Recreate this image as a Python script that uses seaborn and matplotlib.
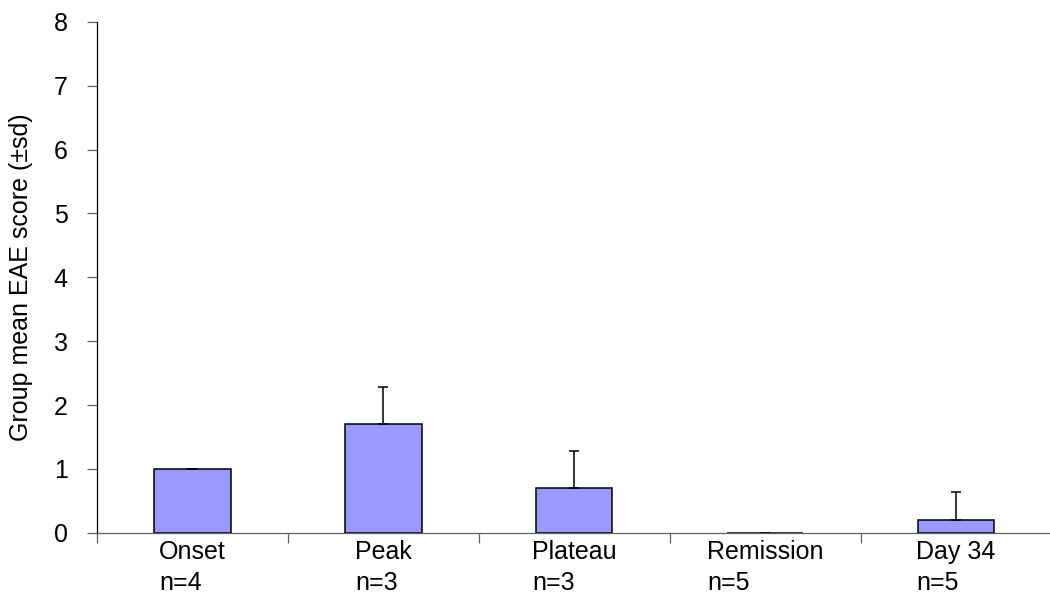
import numpy as np
import pandas as pd
import matplotlib
matplotlib.use("Agg")
import matplotlib.pyplot as plt
import seaborn as sns

categories = ["Onset", "Peak", "Plateau", "Remission", "Day 34"]
n_values = [4, 3, 3, 5, 5]
means = [1.0, 1.7, 0.7, 0.0, 0.2]
sds = [0.0, 0.58, 0.58, 0.0, 0.44]

sns.set_theme(style="white")
plt.rcParams['font.family'] = ['Liberation Sans', 'DejaVu Sans']
plt.rcParams['text.color'] = 'black'
plt.rcParams['axes.labelcolor'] = 'black'

df = pd.DataFrame({"phase": categories, "mean": means, "sd": sds})

fig = plt.figure(figsize=(10.5, 5.94), dpi=100)
ax = fig.add_axes([0.0924, 0.1032, 0.909, 0.8598])

sns.barplot(data=df, x="phase", y="mean", color="#9999FF", saturation=1,
            edgecolor="black", linewidth=1.1, width=0.4, ax=ax, errorbar=None)

xpos = np.arange(len(categories))
ax.errorbar(xpos, df["mean"], yerr=[np.zeros(len(sds)), df["sd"]], fmt="none",
            ecolor="black", elinewidth=1.1, capsize=3.6, capthick=1.1, zorder=3)

ax.set_xlim(-0.5, len(categories) - 0.5)
ax.set_ylim(0, 8)
ax.set_yticks(range(0, 9))

labels = [f"{c}\nn={n}" for c, n in zip(categories, n_values)]
ax.set_xticks(xpos)
ax.set_xticklabels(labels, fontsize=18, multialignment="left", linespacing=1.37)
ax.set_xticks(np.arange(-0.5, len(categories), 1.0), minor=True)
ax.tick_params(axis="x", which="major", length=0, pad=5, labelcolor="black")
ax.tick_params(axis="x", which="minor", bottom=True, length=7, width=0.9, color="#606060")
ax.tick_params(axis="y", left=True, length=7.2, width=0.9, color="#606060",
               labelsize=18, pad=14, labelcolor="black")

ax.set_xlabel("")
ax.set_ylabel("Group mean EAE score (±sd)", fontsize=18, labelpad=15)

for s in ["top", "right"]:
    ax.spines[s].set_visible(False)
ax.spines["left"].set_color("black")
ax.spines["left"].set_linewidth(0.9)
ax.spines["bottom"].set_color("#606060")
ax.spines["bottom"].set_linewidth(0.9)
ax.spines["bottom"].set_zorder(4)

fig.savefig("out.png", dpi=100)
